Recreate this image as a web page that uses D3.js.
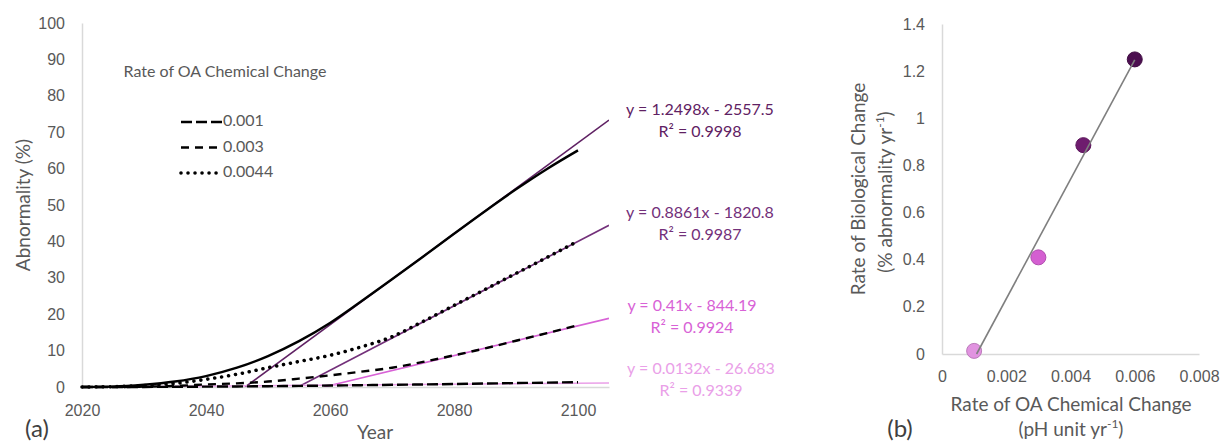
<!DOCTYPE html>
<html>
<head>
<meta charset="utf-8">
<script src="https://cdn.jsdelivr.net/npm/d3@7"></script>
<style>
  html, body { margin: 0; padding: 0; background: #fff; }
  svg { display: block; font-family: Lato, "Open Sans", sans-serif; }
  .tick text { fill: #595959; }
</style>
</head>
<body>
<svg id="chart" width="1220" height="444"></svg>
<script>
// ---- Panel (a): abnormality over time for each rate of OA chemical change ----
const years = [2020, 2025, 2030, 2035, 2040, 2045, 2050, 2055, 2060, 2065, 2070, 2075, 2080, 2085, 2090, 2095, 2100];
const abnormality0006 = [0, 0.1, 0.6, 1.5, 3.0, 5.3, 8.5, 12.6, 17.6, 23.5, 29.6, 35.8, 42.1, 48.3, 54.3, 59.9, 65.0];
const abnormality0044 = [0, 0.1, 0.4, 1.0, 2.1, 3.5, 5.3, 7.0, 8.7, 11.0, 13.8, 18.0, 22.4, 26.8, 31.2, 35.6, 40.1];
const abnormality0030 = [0, 0, 0.1, 0.3, 0.7, 1.0, 1.5, 2.3, 3.2, 4.2, 5.3, 6.9, 8.7, 10.6, 12.7, 14.8, 17.0];
const abnormality0010 = [0, 0, 0.02, 0.05, 0.1, 0.15, 0.22, 0.3, 0.4, 0.5, 0.6, 0.7, 0.82, 0.95, 1.08, 1.2, 1.32];

// Linear trendlines fitted to each series (slope, intercept, R²)
const trendSlopes = [1.2498, 0.8861, 0.41, 0.0132];
const trendIntercepts = [-2557.5, -1820.8, -844.19, -26.683];
const trendR2 = ["0.9998", "0.9987", "0.9924", "0.9339"];
const trendColors = ["#5f2163", "#73307a", "#d862d6", "#eaa0e8"];

const legendTitle = "Rate of OA Chemical Change";
const legendRates = ["0.001", "0.003", "0.0044"];
const yearTicks = [2020, 2040, 2060, 2080, 2100];
const abnormalityTicks = [0, 10, 20, 30, 40, 50, 60, 70, 80, 90, 100];

// ---- Panel (b): biological vs chemical rate ----
const chemRates = [0.001, 0.003, 0.0044, 0.006];
const bioRates = [0.0132, 0.41, 0.8861, 1.2498];
const pointColors = ["#e193e0", "#d45fd1", "#6e1c6e", "#4c0f50"];
const chemTicks = [0, 0.002, 0.004, 0.006, 0.008];
const bioTicks = [0, 0.2, 0.4, 0.6, 0.8, 1, 1.2, 1.4];

const svg = d3.select("#chart");
const grey = "#595959";
const axisGrey = "#d9d9d9";

// ===================== Panel (a) =====================
const xA = d3.scaleLinear().domain([2020, 2105]).range([82, 609]);
const yA = d3.scaleLinear().domain([0, 100]).range([387, 23]);

const gA = svg.append("g");

const yAxisA = gA.append("g").attr("transform", `translate(${xA(2020)},0)`)
  .call(d3.axisLeft(yA).tickValues(abnormalityTicks).tickSize(0).tickSizeOuter(0).tickPadding(17));
yAxisA.selectAll("text").style("font-size", "16px");
yAxisA.select(".domain").attr("stroke", axisGrey).attr("stroke-width", 1.5);

const xAxisA = gA.append("g").attr("transform", `translate(0,${yA(0)})`)
  .call(d3.axisBottom(xA).tickValues(yearTicks).tickFormat(d3.format("d")).tickSize(0).tickSizeOuter(0).tickPadding(18));
xAxisA.selectAll("text").style("font-size", "16px");
xAxisA.select(".domain").attr("stroke", axisGrey).attr("stroke-width", 1.5);

gA.append("text").attr("transform", `translate(25,${(yA(0) + yA(100)) / 2}) rotate(-90)`)
  .attr("text-anchor", "middle").attr("dominant-baseline", "middle")
  .style("font-size", "19px").attr("fill", grey).text("Abnormality (%)");
gA.append("text").attr("x", 375).attr("y", 439).attr("text-anchor", "middle")
  .style("font-size", "19px").attr("fill", grey).text("Year");
gA.append("text").attr("x", 37).attr("y", 437).attr("text-anchor", "middle")
  .style("font-size", "24px").attr("fill", "#404040").text("(a)");

// Trendlines, drawn only where they sit at or above zero
const clipA = gA.append("clipPath").attr("id", "clipA").append("rect")
  .attr("x", xA(2020)).attr("y", yA(100)).attr("width", xA(2105) - xA(2020)).attr("height", yA(0) - yA(100));
trendSlopes.forEach((m, i) => {
  const b = trendIntercepts[i];
  const x0 = Math.max(2020, -b / m);
  const x1 = 2105;
  gA.append("line").attr("clip-path", "url(#clipA)")
    .attr("x1", xA(x0)).attr("y1", yA(m * x0 + b))
    .attr("x2", xA(x1)).attr("y2", yA(m * x1 + b))
    .attr("stroke", trendColors[i]).attr("stroke-width", 1.6);
});

// Abnormality curves
const curveSeries = [
  { values: abnormality0010, dash: "11,4", cap: "butt", width: 2.4 },
  { values: abnormality0030, dash: "8,6", cap: "butt", width: 2.4 },
  { values: abnormality0044, dash: "0.01,7", cap: "round", width: 3.6 },
  { values: abnormality0006, dash: null, cap: "butt", width: 2.4 }
];
const lineA = d3.line().x((d, i) => xA(years[i])).y(d => yA(d)).curve(d3.curveMonotoneX);
curveSeries.forEach(s => {
  gA.append("path").datum(s.values).attr("d", lineA)
    .attr("fill", "none").attr("stroke", "#000").attr("stroke-width", s.width)
    .attr("stroke-dasharray", s.dash).attr("stroke-linecap", s.cap);
});

// Legend
gA.append("text").attr("x", 225).attr("y", 73).attr("text-anchor", "middle").attr("dominant-baseline", "middle")
  .style("font-size", "16px").attr("fill", grey).text(legendTitle);
legendRates.forEach((r, i) => {
  const y = 122 + i * 25.5;
  const s = curveSeries[i];
  gA.append("line").attr("x1", 181).attr("x2", 222).attr("y1", y).attr("y2", y)
    .attr("stroke", "#000").attr("stroke-width", s.width)
    .attr("stroke-dasharray", s.dash).attr("stroke-linecap", s.cap);
  gA.append("text").attr("x", 223).attr("y", y).attr("dominant-baseline", "middle")
    .style("font-size", "16px").attr("fill", grey).text(r);
});

// Trendline equations
const eqPos = [[700, 111], [700, 214], [692, 307], [701, 370]];
trendSlopes.forEach((m, i) => {
  const b = trendIntercepts[i];
  const [cx, cy] = eqPos[i];
  gA.append("text").attr("x", cx).attr("y", cy).attr("text-anchor", "middle").attr("dominant-baseline", "middle")
    .style("font-size", "16px").attr("fill", trendColors[i])
    .text(`y = ${m}x - ${Math.abs(b)}`);
  gA.append("text").attr("x", cx).attr("y", cy + 21.5).attr("text-anchor", "middle").attr("dominant-baseline", "middle")
    .style("font-size", "16px").attr("fill", trendColors[i])
    .text(`R² = ${trendR2[i]}`);
});

// ===================== Panel (b) =====================
const xB = d3.scaleLinear().domain([0, 0.008]).range([942, 1199]);
const yB = d3.scaleLinear().domain([0, 1.4]).range([354, 24]);
const gB = svg.append("g");

const yAxisB = gB.append("g").attr("transform", `translate(${xB(0)},0)`)
  .call(d3.axisLeft(yB).tickValues(bioTicks).tickFormat(d => String(+d.toFixed(1))).tickSize(0).tickSizeOuter(0).tickPadding(17));
yAxisB.selectAll("text").style("font-size", "16px");
yAxisB.select(".domain").attr("stroke", axisGrey).attr("stroke-width", 1.5);

const xAxisB = gB.append("g").attr("transform", `translate(0,${yB(0)})`)
  .call(d3.axisBottom(xB).tickValues(chemTicks).tickFormat(d => String(+d.toFixed(3))).tickSize(0).tickSizeOuter(0).tickPadding(17));
xAxisB.selectAll("text").style("font-size", "16px");
xAxisB.select(".domain").attr("stroke", axisGrey).attr("stroke-width", 1.5);

// Axis titles
const yTitleB = gB.append("text").attr("transform", `translate(860,189) rotate(-90)`)
  .attr("text-anchor", "middle").attr("dominant-baseline", "middle").style("font-size", "19px").attr("fill", grey);
yTitleB.text("Rate of Biological Change");
const yTitleB2 = gB.append("text").attr("transform", `translate(887,192) rotate(-90)`)
  .attr("text-anchor", "middle").attr("dominant-baseline", "middle").style("font-size", "19px").attr("fill", grey);
yTitleB2.append("tspan").text("(% abnormality yr");
yTitleB2.append("tspan").attr("dy", -6).style("font-size", "12px").text("-1");
yTitleB2.append("tspan").attr("dy", 6).text(")");

gB.append("text").attr("x", 1071).attr("y", 406).attr("text-anchor", "middle").attr("dominant-baseline", "middle")
  .style("font-size", "19px").attr("fill", grey).text("Rate of OA Chemical Change");
const xTitleB2 = gB.append("text").attr("x", 1071).attr("y", 431).attr("text-anchor", "middle").attr("dominant-baseline", "middle")
  .style("font-size", "19px").attr("fill", grey);
xTitleB2.append("tspan").text("(pH unit yr");
xTitleB2.append("tspan").attr("dy", -6).style("font-size", "12px").text("-1");
xTitleB2.append("tspan").attr("dy", 6).text(")");

gB.append("text").attr("x", 900).attr("y", 437).attr("text-anchor", "middle")
  .style("font-size", "24px").attr("fill", "#404040").text("(b)");

// Points
gB.selectAll("circle").data(chemRates).join("circle")
  .attr("cx", d => xB(d)).attr("cy", (d, i) => yB(bioRates[i])).attr("r", 7.5)
  .attr("fill", (d, i) => pointColors[i])
  .attr("stroke", (d, i) => d3.color(pointColors[i]).darker(0.5)).attr("stroke-width", 1);

// Least-squares line through the points, kept above zero
const mx = d3.mean(chemRates), my = d3.mean(bioRates);
const sxy = d3.sum(chemRates, (x, i) => (x - mx) * (bioRates[i] - my));
const sxx = d3.sum(chemRates, x => (x - mx) ** 2);
const slopeB = sxy / sxx, interB = my - slopeB * mx;
const xStart = Math.max(d3.min(chemRates), -interB / slopeB);
const xEnd = d3.max(chemRates);
gB.append("line")
  .attr("x1", xB(xStart)).attr("y1", yB(slopeB * xStart + interB))
  .attr("x2", xB(xEnd)).attr("y2", yB(slopeB * xEnd + interB))
  .attr("stroke", "#7f7f7f").attr("stroke-width", 1.6);
</script>
</body>
</html>
